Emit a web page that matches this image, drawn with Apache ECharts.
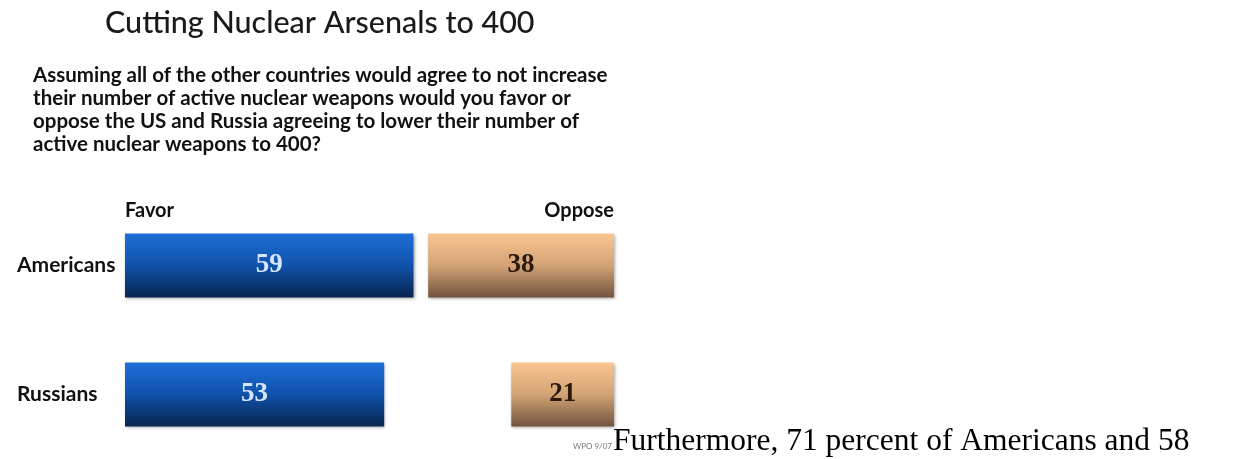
<!DOCTYPE html>
<html>
<head>
<meta charset="utf-8">
<script src="https://cdn.jsdelivr.net/npm/echarts@6/dist/echarts.min.js"></script>
<style>
html,body{margin:0;padding:0;background:#fff;}
#chart{width:1248px;height:459px;}
</style>
</head>
<body>
<div id="chart"></div>
<script>
const titleText = 'Cutting Nuclear Arsenals to 400';
const questionLines = [
  'Assuming all of the other countries would agree to not increase',
  'their number of active nuclear weapons would you favor or',
  'oppose the US and Russia agreeing to lower their number of',
  'active nuclear weapons to 400?'
];
const categories = ['Americans', 'Russians'];
const favor = [59, 53];
const oppose = [38, 21];
const seriesNames = ['Favor', 'Oppose'];
const sourceNote = 'WPO 9/07';
const trailingText = 'Furthermore, 71 percent of Americans and 58';

const chart = echarts.init(document.getElementById('chart'));
const sansFont = 'Lato, "Open Sans", sans-serif';

const blueGrad = new echarts.graphic.LinearGradient(0, 0, 0, 1, [
  {offset: 0, color: '#1e6fd8'},
  {offset: 0.5, color: '#1052aa'},
  {offset: 1, color: '#072550'}
]);
const tanGrad = new echarts.graphic.LinearGradient(0, 0, 0, 1, [
  {offset: 0, color: '#f9c691'},
  {offset: 0.5, color: '#d3a375'},
  {offset: 1, color: '#70543c'}
]);

chart.setOption({
  animation: false,
  backgroundColor: '#ffffff',
  grid: [
    {left: 125, width: 489, top: 201, height: 259},
    {left: 125, width: 489, top: 201, height: 259}
  ],
  xAxis: [
    {gridIndex: 0, type: 'value', min: 0, max: 100, show: false},
    {gridIndex: 1, type: 'value', min: 0, max: 100, inverse: true, show: false}
  ],
  yAxis: [
    {
      gridIndex: 0, type: 'category', data: categories, inverse: true,
      axisLine: {show: false}, axisTick: {show: false}, splitLine: {show: false},
      axisLabel: {
        align: 'left', margin: 108, fontFamily: sansFont, fontWeight: 'bold',
        fontSize: 21, color: '#111'
      }
    },
    {gridIndex: 1, type: 'category', data: categories, inverse: true, show: false}
  ],
  series: [
    {
      name: seriesNames[0], type: 'bar', xAxisIndex: 0, yAxisIndex: 0,
      data: favor, barWidth: 64,
      itemStyle: {color: blueGrad, shadowBlur: 3, shadowColor: 'rgba(0,0,0,0.35)', shadowOffsetX: 1, shadowOffsetY: 1},
      label: {show: true, position: 'inside', fontFamily: '"Liberation Serif", serif', fontWeight: 'bold', fontSize: 27, color: '#d4e6ff'}
    },
    {
      name: seriesNames[1], type: 'bar', xAxisIndex: 1, yAxisIndex: 1,
      data: oppose, barWidth: 64,
      itemStyle: {color: tanGrad, shadowBlur: 3, shadowColor: 'rgba(0,0,0,0.35)', shadowOffsetX: 1, shadowOffsetY: 1},
      label: {show: true, position: 'inside', fontFamily: '"Liberation Serif", serif', fontWeight: 'bold', fontSize: 27, color: '#2a1a0c'}
    }
  ],
  graphic: [
    {type: 'text', left: 105, top: 8, style: {text: titleText, font: '500 30.5px ' + sansFont, fill: '#1a1a1a'}},
    {type: 'text', left: 33, top: 64, style: {text: questionLines.join('\n'), font: 'bold 20.5px ' + sansFont, lineHeight: 23, fill: '#111'}},
    {type: 'text', left: 125, top: 201, style: {text: seriesNames[0], font: 'bold 20px ' + sansFont, fill: '#111'}},
    {type: 'text', right: 1248 - 614, top: 201, style: {text: seriesNames[1], font: 'bold 20px ' + sansFont, fill: '#111', align: 'right'}},
    {type: 'text', right: 1248 - 612, top: 442, style: {text: sourceNote, font: '8px ' + sansFont, fill: '#777', align: 'right'}},
    {type: 'text', left: 613, top: 426, style: {text: trailingText, font: '31.5px "Liberation Serif", "Times New Roman", serif', fill: '#000'}}
  ]
});
</script>
</body>
</html>
